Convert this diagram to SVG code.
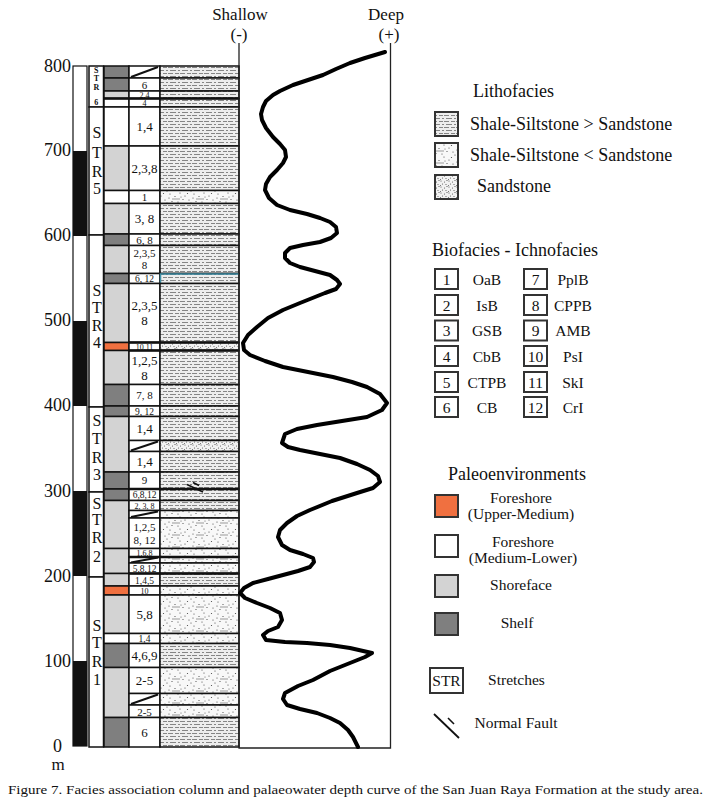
<svg xmlns="http://www.w3.org/2000/svg" width="711" height="807" viewBox="0 0 711 807">
<style>
.t{font-family:"Liberation Serif","Times New Roman",serif;fill:#111}
.ax{font-size:18px;text-anchor:end}
.hd{font-size:17px;text-anchor:middle}
.num{font-size:13px;text-anchor:middle}
.md{font-size:11px}
.sm{font-size:9.5px}
.xs{font-size:8px}
.str{font-size:16px;text-anchor:middle}
.str6{font-size:8px;font-weight:bold;text-anchor:middle}
.lg{font-size:18px}
.lb{font-size:15.5px;text-anchor:middle}
.cell{stroke:#111;stroke-width:1.5}
.dark{fill:#7f7f7f}.light{fill:#d3d3d3}.white{fill:#fff}.orange{fill:#f07040}.blk{fill:#111}
.sh{fill:url(#pShale)}.mx{fill:url(#pMixed)}.sd{fill:url(#pSand)}
.box{stroke:#333;stroke-width:2}
.diag{stroke:#111;stroke-width:2}
</style>
<defs>
<pattern id="pShale" patternUnits="userSpaceOnUse" width="12" height="6">
<rect width="12" height="6" fill="#ededed"/>
<path d="M0 1.5h5M7 1.5h4M2 4.5h6M10 4.5h2" stroke="#858585" stroke-width="1"/>
</pattern>
<pattern id="pMixed" patternUnits="userSpaceOnUse" width="24" height="12">
<rect width="24" height="12" fill="#f8f8f8"/>
<g fill="#444"><circle cx="2" cy="2" r="0.6"/><circle cx="7" cy="4.5" r="0.6"/><circle cx="12" cy="1" r="0.6"/><circle cx="17" cy="4" r="0.6"/><circle cx="21" cy="8" r="0.6"/><circle cx="4" cy="9.5" r="0.6"/><circle cx="10" cy="10" r="0.6"/><circle cx="15" cy="7.5" r="0.6"/><circle cx="19.5" cy="1.5" r="0.6"/><circle cx="23" cy="11" r="0.6"/><circle cx="1" cy="6" r="0.6"/><circle cx="13" cy="5" r="0.5"/></g>
<path d="M4 7h8" stroke="#9a9a9a" stroke-width="1"/>
</pattern>
<pattern id="pSand" patternUnits="userSpaceOnUse" width="8" height="6">
<rect width="8" height="6" fill="#f2f2f2"/>
<g fill="#555"><circle cx="1" cy="1" r="0.55"/><circle cx="4.5" cy="2" r="0.55"/><circle cx="7" cy="0.5" r="0.55"/><circle cx="2.5" cy="4" r="0.55"/><circle cx="6" cy="4.5" r="0.55"/><circle cx="0.5" cy="5.5" r="0.5"/></g>
</pattern>
</defs>
<rect width="711" height="807" fill="#fff"/>

<g id="top-labels">
<text class="t hd" x="240" y="20">Shallow</text>
<text class="t hd" x="239" y="40">(-)</text>
<text class="t hd" x="386" y="20">Deep</text>
<text class="t hd" x="389" y="40">(+)</text>
</g>

<g id="scale">
<rect x="73" y="66" width="14" height="680" fill="#fff" stroke="#111" stroke-width="1.2"/>
<rect class="blk" x="73" y="661" width="14" height="85"/>
<rect class="blk" x="73" y="491" width="14" height="85"/>
<rect class="blk" x="73" y="321" width="14" height="85"/>
<rect class="blk" x="73" y="151" width="14" height="85"/>
<text class="t ax" x="71" y="72">800</text>
<text class="t ax" x="71" y="156">700</text>
<text class="t ax" x="71" y="241">600</text>
<text class="t ax" x="71" y="326">500</text>
<text class="t ax" x="71" y="411">400</text>
<text class="t ax" x="71" y="497">300</text>
<text class="t ax" x="71" y="582">200</text>
<text class="t ax" x="71" y="667">100</text>
<text class="t ax" x="62" y="752">0</text>
<text class="t hd" x="58" y="770" font-size="18">m</text>
</g>

<g id="stretches">
<g id="str6"><rect class="white cell" x="89" y="66" width="14.5" height="41"/>
<text class="t str6" x="96.3" y="73">S</text><text class="t str6" x="96.3" y="81">T</text><text class="t str6" x="96.3" y="89.5">R</text><text class="t str6" x="96.3" y="105">6</text></g>
<g id="str5"><rect class="white cell" x="89" y="107" width="14.5" height="128"/>
<text class="t str" x="97" y="138">S</text><text class="t str" x="97" y="158">T</text><text class="t str" x="97" y="177">R</text><text class="t str" x="97" y="194">5</text></g>
<g id="str4"><rect class="white cell" x="89" y="235" width="14.5" height="172"/>
<text class="t str" x="97" y="296">S</text><text class="t str" x="97" y="313">T</text><text class="t str" x="97" y="331">R</text><text class="t str" x="97" y="348">4</text></g>
<g id="str3"><rect class="white cell" x="89" y="407" width="14.5" height="85"/>
<text class="t str" x="97" y="426">S</text><text class="t str" x="97" y="444">T</text><text class="t str" x="97" y="463">R</text><text class="t str" x="97" y="480">3</text></g>
<g id="str2"><rect class="white cell" x="89" y="492" width="14.5" height="85"/>
<text class="t str" x="97" y="509">S</text><text class="t str" x="97" y="525">T</text><text class="t str" x="97" y="543">R</text><text class="t str" x="97" y="562">2</text></g>
<g id="str1"><rect class="white cell" x="89" y="577" width="14.5" height="170"/>
<text class="t str" x="97" y="631">S</text><text class="t str" x="97" y="648">T</text><text class="t str" x="97" y="667">R</text><text class="t str" x="97" y="685">1</text></g>
</g>

<g id="environments">
<rect class="dark cell" x="104" y="66" width="25" height="12"/>
<rect class="dark cell" x="104" y="78" width="25" height="13"/>
<rect class="light cell" x="104" y="91" width="25" height="7.5"/>
<rect class="white cell" x="104" y="98.5" width="25" height="8.5"/>
<rect class="white cell" x="104" y="107" width="25" height="39"/>
<rect class="light cell" x="104" y="146" width="25" height="44.5"/>
<rect class="white cell" x="104" y="190.5" width="25" height="13"/>
<rect class="light cell" x="104" y="203.5" width="25" height="30.5"/>
<rect class="dark cell" x="104" y="234" width="25" height="11.5"/>
<rect class="light cell" x="104" y="245.5" width="25" height="28"/>
<rect class="dark cell" x="104" y="273.5" width="25" height="10"/>
<rect class="light cell" x="104" y="283.5" width="25" height="59"/>
<rect class="orange cell" x="104" y="342.5" width="25" height="8"/>
<rect class="light cell" x="104" y="350.5" width="25" height="34"/>
<rect class="dark cell" x="104" y="384.5" width="25" height="21.5"/>
<rect class="dark cell" x="104" y="406" width="25" height="10.5"/>
<rect class="light cell" x="104" y="416.5" width="25" height="55.5"/>
<rect class="dark cell" x="104" y="472" width="25" height="17"/>
<rect class="dark cell" x="104" y="489" width="25" height="11.5"/>
<rect class="light cell" x="104" y="500.5" width="25" height="48"/>
<rect class="light cell" x="104" y="548.5" width="25" height="25"/>
<rect class="light cell" x="104" y="573.5" width="25" height="12.5"/>
<rect class="orange cell" x="104" y="586" width="25" height="9"/>
<rect class="light cell" x="104" y="595" width="25" height="38.5"/>
<rect class="white cell" x="104" y="633.5" width="25" height="10"/>
<rect class="dark cell" x="104" y="643.5" width="25" height="24"/>
<rect class="light cell" x="104" y="667.5" width="25" height="50"/>
<rect class="dark cell" x="104" y="717.5" width="25" height="29.5"/>
</g>

<g id="layers">
<g id="L1"><rect class="white cell" x="129" y="66" width="31" height="12"/><rect class="sh cell" x="160" y="66" width="79" height="12"/><line class="diag" x1="131" y1="77" x2="158" y2="67"/></g>
<g id="L2"><rect class="white cell" x="129" y="78" width="31" height="13"/><rect class="sh cell" x="160" y="78" width="79" height="13"/><text class="t num md" x="144.5" y="88.5">6</text></g>
<g id="L3"><rect class="white cell" x="129" y="91" width="31" height="7.5"/><rect class="sh cell" x="160" y="91" width="79" height="7.5"/><text class="t num xs" x="144.5" y="97.5">2,4</text></g>
<g id="L4"><rect class="white cell" x="129" y="98.5" width="31" height="8.5"/><rect class="sh cell" x="160" y="98.5" width="79" height="8.5"/><text class="t num xs" x="144.5" y="106">4</text></g>
<g id="L5"><rect class="white cell" x="129" y="107" width="31" height="39"/><rect class="sh cell" x="160" y="107" width="79" height="39"/><text class="t num" x="144.5" y="131">1,4</text></g>
<g id="L6"><rect class="white cell" x="129" y="146" width="31" height="44.5"/><rect class="sh cell" x="160" y="146" width="79" height="44.5"/><text class="t num" x="144.5" y="173">2,3,8</text></g>
<g id="L7"><rect class="white cell" x="129" y="190.5" width="31" height="13"/><rect class="mx cell" x="160" y="190.5" width="79" height="13"/><text class="t num md" x="144.5" y="201">1</text></g>
<g id="L8"><rect class="white cell" x="129" y="203.5" width="31" height="30.5"/><rect class="sh cell" x="160" y="203.5" width="79" height="30.5"/><text class="t num" x="144.5" y="223">3, 8</text></g>
<g id="L9"><rect class="white cell" x="129" y="234" width="31" height="11.5"/><rect class="sh cell" x="160" y="234" width="79" height="11.5"/><text class="t num md" x="144.5" y="243.5">6, 8</text></g>
<g id="L10"><rect class="white cell" x="129" y="245.5" width="31" height="28"/><rect class="sh cell" x="160" y="245.5" width="79" height="28"/><text class="t num md" x="144.5" y="257">2,3,5</text><text class="t num md" x="144.5" y="269">8</text></g>
<g id="L11"><rect class="white cell" x="129" y="273.5" width="31" height="10"/><rect class="sh cell" x="160" y="273.5" width="79" height="10"/><path d="M160.5 283V274H239" stroke="#3f8fa6" stroke-width="1.5" fill="none"/><text class="t num sm" x="144.5" y="282">6, 12</text></g>
<g id="L12"><rect class="white cell" x="129" y="283.5" width="31" height="59"/><rect class="sh cell" x="160" y="283.5" width="79" height="59"/><text class="t num" x="144.5" y="310">2,3,5</text><text class="t num" x="144.5" y="325">8</text></g>
<g id="L13"><rect class="white cell" x="129" y="342.5" width="31" height="8"/><rect class="sd cell" x="160" y="342.5" width="79" height="8"/><text class="t num xs" x="144.5" y="349.5">10.11</text></g>
<g id="L14"><rect class="white cell" x="129" y="350.5" width="31" height="34"/><rect class="sh cell" x="160" y="350.5" width="79" height="34"/><text class="t num" x="144.5" y="365">1,2,5</text><text class="t num" x="144.5" y="380">8</text></g>
<g id="L15"><rect class="white cell" x="129" y="384.5" width="31" height="21.5"/><rect class="sh cell" x="160" y="384.5" width="79" height="21.5"/><text class="t num md" x="144.5" y="399">7, 8</text></g>
<g id="L16"><rect class="white cell" x="129" y="406" width="31" height="10.5"/><rect class="sh cell" x="160" y="406" width="79" height="10.5"/><text class="t num sm" x="144.5" y="414.5">9, 12</text></g>
<g id="L17"><rect class="white cell" x="129" y="416.5" width="31" height="24"/><rect class="sh cell" x="160" y="416.5" width="79" height="24"/><text class="t num" x="144.5" y="433">1,4</text></g>
<g id="L18"><rect class="white cell" x="129" y="440.5" width="31" height="11"/><rect class="sd cell" x="160" y="440.5" width="79" height="11"/><line class="diag" x1="131" y1="450.5" x2="158" y2="441.5"/></g>
<g id="L19"><rect class="white cell" x="129" y="451.5" width="31" height="20.5"/><rect class="sh cell" x="160" y="451.5" width="79" height="20.5"/><text class="t num" x="144.5" y="466">1,4</text></g>
<g id="L20"><rect class="white cell" x="129" y="472" width="31" height="17"/><rect class="sh cell" x="160" y="472" width="79" height="17"/><text class="t num md" x="144.5" y="484">9</text></g>
<g id="L21"><rect class="white cell" x="129" y="489" width="31" height="11.5"/><rect class="sh cell" x="160" y="489" width="79" height="11.5"/><text class="t num sm" x="144.5" y="498">6,8,12</text></g>
<g id="L22"><rect class="white cell" x="129" y="500.5" width="31" height="10"/><rect class="sh cell" x="160" y="500.5" width="79" height="10"/><text class="t num xs" x="144.5" y="508.5">2, 3, 8</text></g>
<g id="L23"><rect class="white cell" x="129" y="510.5" width="31" height="7.5"/><rect class="mx cell" x="160" y="510.5" width="79" height="7.5"/><line class="diag" x1="131" y1="517" x2="158" y2="511.5"/></g>
<g id="L24"><rect class="white cell" x="129" y="518" width="31" height="30.5"/><rect class="mx cell" x="160" y="518" width="79" height="30.5"/><text class="t num md" x="144.5" y="531">1,2,5</text><text class="t num md" x="144.5" y="544">8, 12</text></g>
<g id="L25"><rect class="white cell" x="129" y="548.5" width="31" height="8.5"/><rect class="mx cell" x="160" y="548.5" width="79" height="8.5"/><text class="t num xs" x="144.5" y="556">1,6,8</text></g>
<g id="L26"><rect class="white cell" x="129" y="557" width="31" height="6"/><rect class="mx cell" x="160" y="557" width="79" height="6"/><line class="diag" x1="131" y1="562.5" x2="158" y2="557.5"/></g>
<g id="L27"><rect class="white cell" x="129" y="563" width="31" height="10.5"/><rect class="mx cell" x="160" y="563" width="79" height="10.5"/><text class="t num sm" x="144.5" y="571.5">5,8,12</text></g>
<g id="L28"><rect class="white cell" x="129" y="573.5" width="31" height="12.5"/><rect class="sh cell" x="160" y="573.5" width="79" height="12.5"/><text class="t num sm" x="144.5" y="583.5">1,4,5</text></g>
<g id="L29"><rect class="white cell" x="129" y="586" width="31" height="9"/><rect class="mx cell" x="160" y="586" width="79" height="9"/><text class="t num xs" x="144.5" y="593.5">10</text></g>
<g id="L30"><rect class="white cell" x="129" y="595" width="31" height="38.5"/><rect class="mx cell" x="160" y="595" width="79" height="38.5"/><text class="t num" x="144.5" y="619">5,8</text></g>
<g id="L31"><rect class="white cell" x="129" y="633.5" width="31" height="10"/><rect class="mx cell" x="160" y="633.5" width="79" height="10"/><text class="t num sm" x="144.5" y="642">1,4</text></g>
<g id="L32"><rect class="white cell" x="129" y="643.5" width="31" height="24"/><rect class="sh cell" x="160" y="643.5" width="79" height="24"/><text class="t num" x="144.5" y="660">4,6,9</text></g>
<g id="L33"><rect class="white cell" x="129" y="667.5" width="31" height="26"/><rect class="mx cell" x="160" y="667.5" width="79" height="26"/><text class="t num" x="144.5" y="685">2-5</text></g>
<g id="L34"><rect class="white cell" x="129" y="693.5" width="31" height="11.5"/><rect class="mx cell" x="160" y="693.5" width="79" height="11.5"/><line class="diag" x1="131" y1="704" x2="158" y2="694.5"/></g>
<g id="L35"><rect class="white cell" x="129" y="705" width="31" height="12.5"/><rect class="mx cell" x="160" y="705" width="79" height="12.5"/><text class="t num md" x="144.5" y="715.5">2-5</text></g>
<g id="L36"><rect class="white cell" x="129" y="717.5" width="31" height="29.5"/><rect class="sh cell" x="160" y="717.5" width="79" height="29.5"/><text class="t num" x="144.5" y="737">6</text></g>
<g id="thick-lines" stroke="#111" stroke-width="2.5">
<line x1="104" y1="98.5" x2="239" y2="98.5"/>
<line x1="129" y1="342.5" x2="239" y2="342.5"/>
<line x1="129" y1="350.5" x2="239" y2="350.5"/>
<line x1="129" y1="573.5" x2="239" y2="573.5"/>
<line x1="129" y1="557" x2="239" y2="557"/>
<line x1="129" y1="489" x2="239" y2="489"/>
</g>
<g id="fault-column" stroke="#111" stroke-width="1.6">
<line x1="187" y1="484.5" x2="203" y2="492"/>
<line x1="193" y1="482.5" x2="199" y2="485.5"/>
</g>
</g>

<g id="depth-frame">
<path d="M239 43V748H390.5V43" fill="none" stroke="#222" stroke-width="1.3"/>
</g>

<g id="connectors">
<polyline id="depth-curve" fill="none" stroke="#000" stroke-width="4" stroke-linejoin="round" stroke-linecap="round" points="385,52 365,58 350,63 336,69 323,75 308,80 293,85 280,91 273,95 266,101 263,107 261,114 262,120 266,128 273,137 280,144 285,150 286,157 283,163 277,170 270,177 266,184 265,190 269,198 277,205 290,210 307,214 320,218 330,222 336,227 337,233 331,238 320,242 303,245 290,248 285,253 285,258 290,263 300,267 315,271 330,275 337,280 340,284 336,289 325,293 300,303 283,310 268,318 257,327 248,335 243,343 244,350 250,355 265,361 283,367 308,372 333,377 352,382 367,387 380,394 387,403 382,410 367,417 342,421 317,425 297,429 285,434 282,443 288,447 300,450 320,454 340,458 357,464 370,470 378,476 380,482 373,488 357,493 332,501 310,510 297,516 287,523 280,530 278,537 282,545 290,550 303,554 313,558 314,562 310,567 298,571 283,575 268,579 253,583 244,588 240,593 245,598 257,603 270,608 280,613 282,620 278,627 268,631 263,635 266,640 285,642 307,643 330,645 350,648 372,653 365,657 350,663 330,671 313,680 298,686 285,693 283,699 287,705 300,709 317,713 330,718 340,723 348,730 353,737 358,747"/>
</g>

<g id="legend-lithofacies">
<text class="t lg" x="473" y="97">Lithofacies</text>
<g id="leg-shale"><rect class="sh box" x="435" y="112" width="23" height="24"/><text class="t lg" x="470" y="130">Shale-Siltstone &gt; Sandstone</text></g>
<g id="leg-mixed"><rect class="mx box" x="435" y="143" width="23" height="24"/><text class="t lg" x="470" y="161">Shale-Siltstone &lt; Sandstone</text></g>
<g id="leg-sand"><rect class="sd box" x="435" y="175" width="23" height="24"/><text class="t lg" x="477" y="192">Sandstone</text></g>
</g>

<g id="legend-biofacies">
<text class="t lg" x="432" y="256">Biofacies - Ichnofacies</text>
<g fill="#fff">
<rect class="box" x="435" y="269" width="23" height="20"/><rect class="box" x="435" y="295" width="23" height="20"/><rect class="box" x="435" y="320.5" width="23" height="20"/><rect class="box" x="435" y="346" width="23" height="20"/><rect class="box" x="435" y="372" width="23" height="20"/><rect class="box" x="435" y="397" width="23" height="20"/>
<rect class="box" x="524" y="269" width="23" height="20"/><rect class="box" x="524" y="295" width="23" height="20"/><rect class="box" x="524" y="320.5" width="23" height="20"/><rect class="box" x="524" y="346" width="23" height="20"/><rect class="box" x="524" y="372" width="23" height="20"/><rect class="box" x="524" y="397" width="23" height="20"/>
</g>
<text class="t lb" x="446.5" y="284.5">1</text><text class="t lb" x="487" y="284.5">OaB</text><text class="t lb" x="535.5" y="284.5">7</text><text class="t lb" x="573" y="284.5">PplB</text>
<text class="t lb" x="446.5" y="310.5">2</text><text class="t lb" x="487" y="310.5">IsB</text><text class="t lb" x="535.5" y="310.5">8</text><text class="t lb" x="573" y="310.5">CPPB</text>
<text class="t lb" x="446.5" y="336">3</text><text class="t lb" x="487" y="336">GSB</text><text class="t lb" x="535.5" y="336">9</text><text class="t lb" x="573" y="336">AMB</text>
<text class="t lb" x="446.5" y="361.5">4</text><text class="t lb" x="487" y="361.5">CbB</text><text class="t lb" x="535.5" y="361.5">10</text><text class="t lb" x="573" y="361.5">PsI</text>
<text class="t lb" x="446.5" y="387.5">5</text><text class="t lb" x="487" y="387.5">CTPB</text><text class="t lb" x="535.5" y="387.5">11</text><text class="t lb" x="573" y="387.5">SkI</text>
<text class="t lb" x="446.5" y="412.5">6</text><text class="t lb" x="487" y="412.5">CB</text><text class="t lb" x="535.5" y="412.5">12</text><text class="t lb" x="573" y="412.5">CrI</text>
</g>

<g id="legend-paleoenvironments">
<text class="t lg" x="448" y="480">Paleoenvironments</text>
<g id="leg-upper"><rect class="orange box" x="435" y="495" width="23" height="22"/><text class="t lb" x="521" y="503">Foreshore</text><text class="t lb" x="521" y="519">(Upper-Medium)</text></g>
<g id="leg-lower"><rect class="white box" x="435" y="535" width="23" height="22"/><text class="t lb" x="523" y="547">Foreshore</text><text class="t lb" x="523" y="563">(Medium-Lower)</text></g>
<g id="leg-shoreface"><rect class="light box" x="435" y="575" width="23" height="22"/><text class="t lb" x="521" y="590">Shoreface</text></g>
<g id="leg-shelf"><rect class="dark box" x="435" y="613" width="23" height="22"/><text class="t lb" x="517" y="628">Shelf</text></g>
<g id="leg-stretches"><rect class="white box" x="430" y="668" width="33" height="25"/><text class="t lb" x="446.5" y="686">STR</text><text class="t lb" x="516.5" y="685">Stretches</text></g>
<g id="leg-fault"><line x1="434" y1="714" x2="459" y2="738" stroke="#111" stroke-width="1.8"/><line x1="448" y1="718" x2="454" y2="724" stroke="#111" stroke-width="1.6"/><text class="t lb" x="516" y="728">Normal Fault</text></g>
</g>

<g id="caption">
<text class="t" x="8" y="794" font-size="13.5" textLength="695" lengthAdjust="spacingAndGlyphs">Figure 7. Facies association column and palaeowater depth curve of the San Juan Raya Formation at the study area.</text>
</g>
</svg>
